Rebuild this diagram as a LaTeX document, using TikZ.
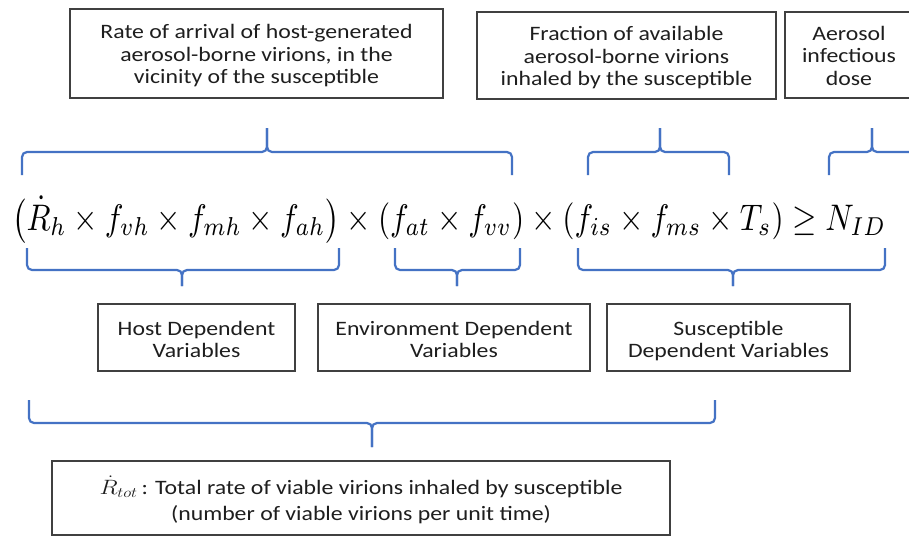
\documentclass[tikz,border=0pt]{standalone}
\usepackage{fontspec}
\usepackage{graphicx}
\setmainfont{Carlito}
\definecolor{bracecol}{HTML}{4472C4}
\definecolor{boxcol}{HTML}{404040}
\definecolor{txtcol}{HTML}{1E1E1E}
\newcommand{\sx}[2][4pt]{\raisebox{-#1}[\height][\depth]{\scalebox{1.16}[1]{\begin{tabular}{@{}c@{}}#2\end{tabular}}}}
\tikzset{
  bracestyle/.style={draw=bracecol, line width=2.2pt, rounded corners=5pt},
  infobox/.style={draw=boxcol, line width=1.3pt, text=txtcol, inner sep=0pt,
    font=\fontsize{20.5}{22.5}\selectfont},
}
\newcommand{\mybrace}[6]{%
  \draw[bracestyle] (#1,#4) -- (#1,#5) -- (#3,#5) -- (#3,#6);
  \draw[bracestyle] (#2,#4) -- (#2,#5) -- (#3,#5) -- (#3,#6);}
\begin{document}
\begin{tikzpicture}[x=1pt,y=-1pt]
\clip (0,0) rectangle (909,536);
\fill[white] (0,0) rectangle (909,536);
% top boxes
\node[infobox, minimum width=373pt, minimum height=89pt] (rate) at (256.5,53.5)
  {\sx[3pt]{Rate of arrival of host-generated\\aerosol-borne virions, in the\\vicinity of the susceptible}};
\node[infobox, minimum width=299pt, minimum height=87pt] (frac) at (626.5,55.5)
  {\sx[3pt]{Fraction of available\\aerosol-borne virions\\inhaled by the susceptible}};
\node[infobox, minimum width=140pt, minimum height=86pt] (dosebox) at (855,55) {};
\node[text=txtcol, inner sep=0pt, font=\fontsize{20.5}{22.5}\selectfont] (dose) at (849,55)
  {\sx[3pt]{Aerosol\\infectious\\dose}};
% equation
\node[anchor=base west, inner sep=0pt, text=black] (eq) at (12,230)
  {\resizebox*{874pt}{47pt}{$\bigl(\dot{R}_h \times f_{vh} \times f_{mh} \times f_{ah}\bigr) \times (f_{at} \times f_{vv}) \times (f_{is} \times f_{ms} \times T_s) \geq N_{ID}$}};
% upper braces (tip up)
\mybrace{22}{512}{267}{175}{152}{128}
\mybrace{588}{729}{660}{175}{152}{128}
\mybrace{829}{915}{872}{175}{152}{128}
% lower braces (tip down)
\mybrace{27}{339}{182}{248}{270}{286}
\mybrace{395}{520}{457}{248}{270}{286}
\mybrace{578}{885}{733}{248}{270}{286}
% middle boxes
\node[infobox, minimum width=197pt, minimum height=67pt, font=\fontsize{20.5}{22}\selectfont] (host) at (196.5,337.5)
  {\sx[4.5pt]{Host Dependent\\Variables}};
\node[infobox, minimum width=272pt, minimum height=67pt, font=\fontsize{20.5}{22}\selectfont] (env) at (454,337.5)
  {\sx[4.5pt]{Environment Dependent\\Variables}};
\node[infobox, minimum width=243pt, minimum height=67pt, font=\fontsize{20.5}{22}\selectfont] (susc) at (728.5,337.5)
  {\sx[4.5pt]{Susceptible\\Dependent Variables}};
% bottom brace
\mybrace{29}{715}{372}{400}{423}{447}
% bottom box
\node[infobox, minimum width=618pt, minimum height=74pt, font=\fontsize{20.5}{26}\selectfont] (tot) at (361,498)
  {\sx[4pt]{$\dot{R}_{tot}$\,: Total rate of viable virions inhaled by susceptible\\(number of viable virions per unit time)}};
\end{tikzpicture}
\end{document}
